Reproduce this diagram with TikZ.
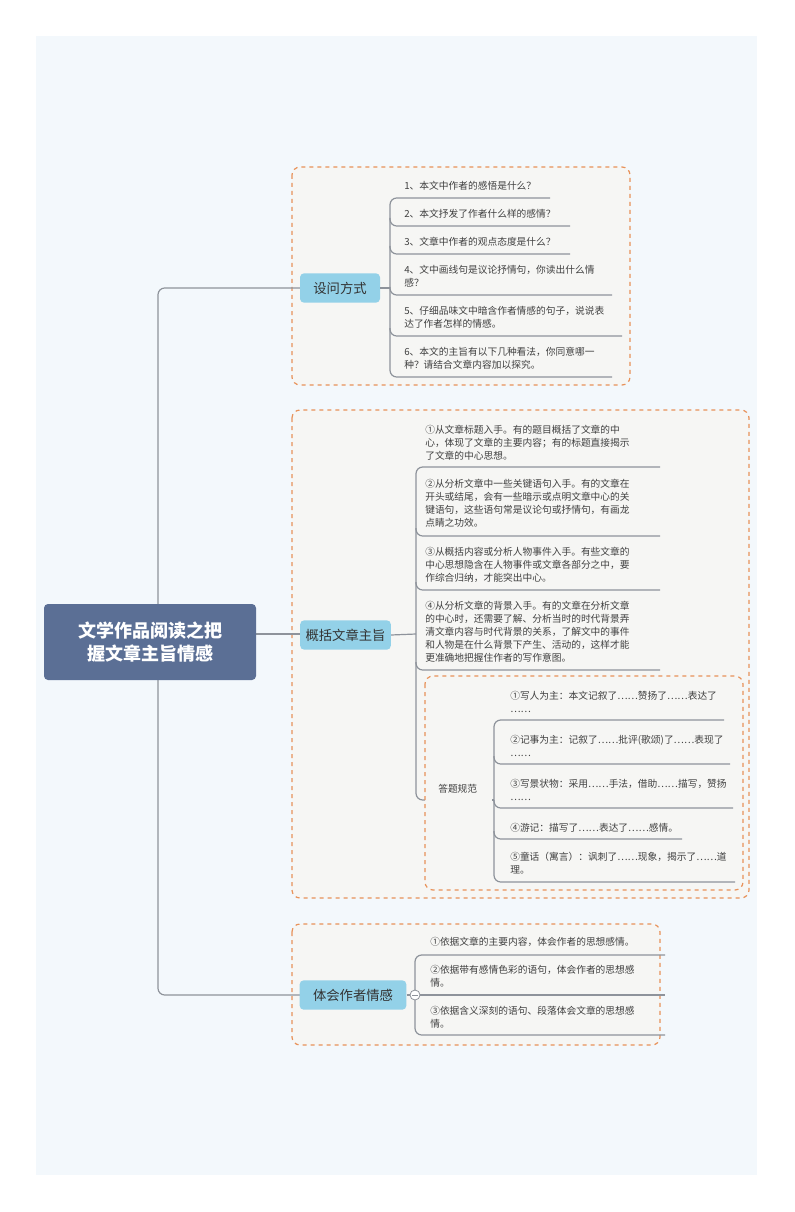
\documentclass[tikz,border=0pt]{standalone}
\usepackage{fontspec}
\setmainfont{Noto Sans CJK SC}
\begin{document}
\begin{tikzpicture}[x=0.75pt,y=-0.75pt,
 ln/.style={draw=lineg,line width=0.9pt},
 grp/.style={draw=orng,dashed,line width=0.9pt,rounded corners=6pt,fill=grpf},
 br/.style={fill=brf,rounded corners=3pt,inner sep=0pt,font=\fontsize{10}{12}\selectfont,text=black!80},
 lf/.style={anchor=west,align=left,inner sep=0pt,font=\fontsize{7.3}{9.8}\selectfont,text=black!75}]
\definecolor{lineg}{HTML}{8E939B}
\definecolor{orng}{HTML}{E8925A}
\definecolor{grpf}{HTML}{F6F6F4}
\definecolor{brf}{HTML}{93D1E8}
\definecolor{bgf}{HTML}{F3F8FC}
\definecolor{rootf}{HTML}{5B6F95}
\useasboundingbox (0,0) rectangle (794,1212);
\fill[white] (0,0) rectangle (794,1212);
\fill[bgf] (36,36) rectangle (757,1175);
% groups
\draw[grp] (292,167) rectangle (630,385);
\draw[grp] (292,410) rectangle (749,898);
\draw[grp] (292,924) rectangle (660,1045);
% trunk
\draw[ln,rounded corners=5pt] (300,288) -- (158,288) -- (158,995) -- (300,995);
\draw[ln] (158,634) -- (300,634);
% root
\node[fill=rootf,rounded corners=3pt,minimum width=212\pgflinewidth,text=white,font=\bfseries\fontsize{13.5}{17}\selectfont,align=center,minimum width=159pt,minimum height=57pt] (root) at (150,642) {文学作品阅读之把\\握文章主旨情感};
% branches
\node[br,minimum width=60pt,minimum height=22pt] (b1) at (340,288) {设问方式};
\node[br,minimum width=68pt,minimum height=22pt] (b2) at (345.5,635) {概括文章主旨};
\node[br,minimum width=80pt,minimum height=22pt] (b3) at (353,995) {体会作者情感};
% group1 leaves
\draw[ln] (b1.east) -- (390,288);
\draw[ln,rounded corners=5pt] (550,198) -- (390,198) -- (390,377) -- (612,377);
\foreach \y/\e in {226/570,254/570,295/612,336/622} \draw[ln,rounded corners=5pt] (390,\y-8) -- (390,\y) -- (\e,\y);
\node[lf] (l11) at (404,186) {1、本文中作者的感悟是什么？};
\node[lf] (l12) at (404,214) {2、本文抒发了作者什么样的感情？};
\node[lf] (l13) at (404,242) {3、文章中作者的观点态度是什么？};
\node[lf] (l14) at (404,276.5) {4、文中画线句是议论抒情句，你读出什么情\\感？};
\node[lf] (l15) at (404,317.5) {5、仔细品味文中暗含作者情感的句子，说说表\\达了作者怎样的情感。};
\node[lf] (l16) at (404,358.5) {6、本文的主旨有以下几种看法，你同意哪一\\种？请结合文章内容加以探究。};
% group2 leaves
\draw[ln] (b2.east) -- (416,634);
\draw[ln,rounded corners=5pt] (660,467) -- (416,467) -- (416,800) -- (492,800);
\foreach \y in {536,590,670} \draw[ln,rounded corners=5pt] (416,\y-8) -- (416,\y) -- (660,\y);
\node[lf] (l21) at (425,443) {①从文章标题入手。有的题目概括了文章的中\\心，体现了文章的主要内容；有的标题直接揭示\\了文章的中心思想。};
\node[lf] (l22) at (425,503.5) {②从分析文章中一些关键语句入手。有的文章在\\开头或结尾，会有一些暗示或点明文章中心的关\\键语句，这些语句常是议论句或抒情句，有画龙\\点睛之功效。};
\node[lf] (l23) at (425,564.5) {③从概括内容或分析人物事件入手。有些文章的\\中心思想隐含在人物事件或文章各部分之中，要\\作综合归纳，才能突出中心。};
\node[lf] (l24) at (425,632) {④从分析文章的背景入手。有的文章在分析文章\\的中心时，还需要了解、分析当时的时代背景弄\\清文章内容与时代背景的关系，了解文中的事件\\和人物是在什么背景下产生、活动的，这样才能\\更准确地把握住作者的写作意图。};
\draw[grp] (425,676) rectangle (743,890);
\node[lf] (l25) at (438,789) {答题规范};
\draw[ln,rounded corners=5pt] (724,720) -- (494,720) -- (494,882) -- (735,882);
\draw[ln] (492,800) -- (494,800);
\foreach \y/\e in {764/730,808/733,839/682} \draw[ln,rounded corners=5pt] (494,\y-8) -- (494,\y) -- (\e,\y);
\node[lf] (m1) at (510,701.5) {①写人为主：本文记叙了……赞扬了……表达了\\……};
\node[lf] (m2) at (510,745.5) {②记事为主：记叙了……批评(歌颂)了……表现了\\……};
\node[lf] (m3) at (510,789.5) {③写景状物：采用……手法，借助……描写，赞扬\\……};
\node[lf] (m4) at (510,828) {④游记：描写了……表达了……感情。};
\node[lf] (m5) at (510,863.5) {⑤童话（寓言）：讽刺了……现象，揭示了……道\\理。};
% group3 leaves
\draw[ln] (b3.east) -- (410,995);
\draw[ln,rounded corners=5pt] (665,955) -- (415,955) -- (415,1035) -- (665,1035);
\draw[ln] (420,995) -- (665,995);
\draw[lineg,fill=white,line width=0.6pt] (415,995) circle (5);
\draw[lineg,line width=0.6pt] (412,995) -- (418,995);
\node[lf] (l31) at (430,942) {①依据文章的主要内容，体会作者的思想感情。};
\node[lf] (l32) at (430,976.5) {②依据带有感情色彩的语句，体会作者的思想感\\情。};
\node[lf] (l33) at (430,1017.5) {③依据含义深刻的语句、段落体会文章的思想感\\情。};
\end{tikzpicture}
\end{document}
